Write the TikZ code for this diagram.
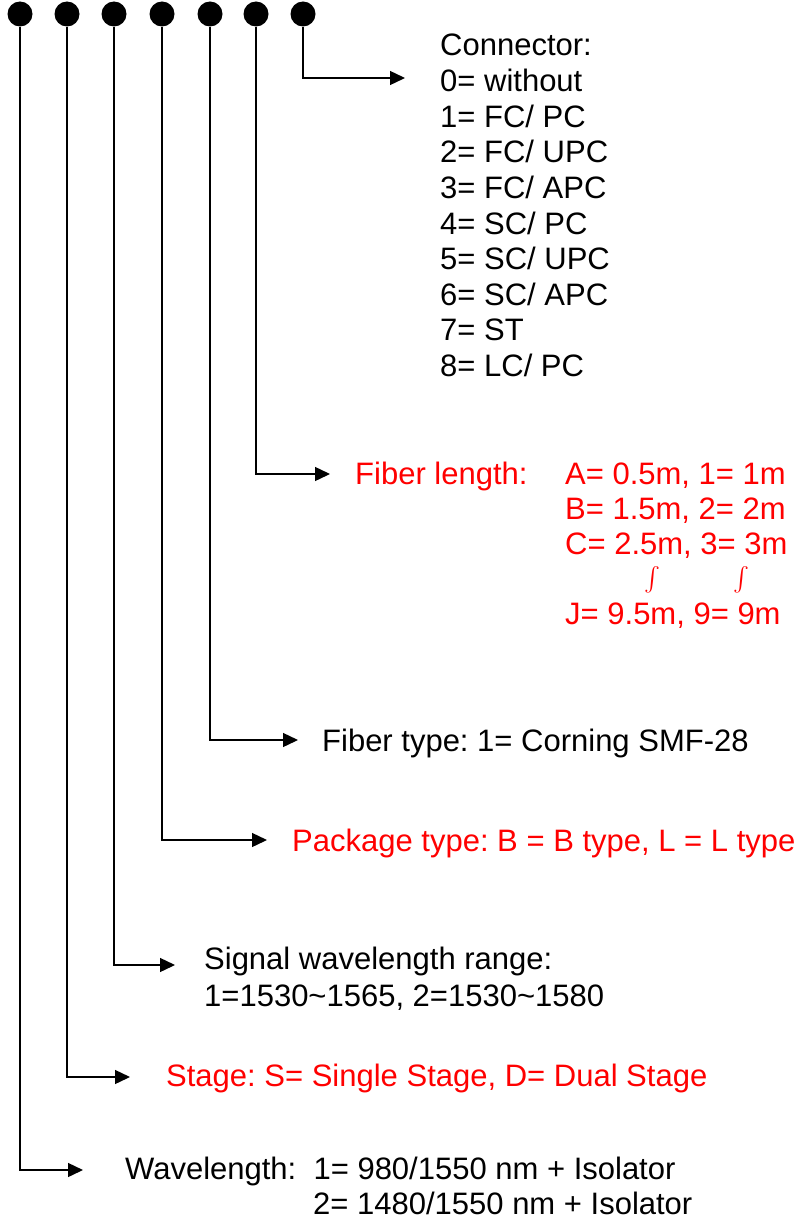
\documentclass[tikz,border=0pt]{standalone}
\usepackage{fontspec}
\setmainfont{Liberation Sans}
\usetikzlibrary{arrows.meta, positioning}
\frenchspacing

\begin{document}
\begin{tikzpicture}[
  x=1pt, y=-1pt,
  pin/.style={circle, fill, inner sep=0pt, minimum size=25pt},
  lead/.style={draw, line width=1.4pt, -{Triangle[length=15pt, width=14pt]}},
  txt/.style={anchor=base west, inner sep=0pt, font=\fontsize{31}{36}\selectfont},
  redtxt/.style={txt, text=red},
  gap/.style={red, inner sep=0pt, scale=2.4}
  ]
  \useasboundingbox (0,0) rectangle (799,1220);
  % code pins
  \node[pin] (d1) at (20,14) {};
  \node[pin] (d2) at (67,14) {};
  \node[pin] (d3) at (114,14) {};
  \node[pin] (d4) at (162,14) {};
  \node[pin] (d5) at (210,14) {};
  \node[pin] (d6) at (256,14) {};
  \node[pin] (d7) at (303,14) {};
  % arrow ends
  \coordinate (a1) at (83,1170);
  \coordinate (a2) at (130,1077);
  \coordinate (a3) at (175,965);
  \coordinate (a4) at (267,840);
  \coordinate (a5) at (298,740);
  \coordinate (a6) at (330,474);
  \coordinate (a7) at (405,78);
  \draw[lead] (d1) |- (a1);
  \draw[lead] (d2) |- (a2);
  \draw[lead] (d3) |- (a3);
  \draw[lead] (d4) |- (a4);
  \draw[lead] (d5) |- (a5);
  \draw[lead] (d6) |- (a6);
  \draw[lead] (d7) |- (a7);
  % connector
  \foreach \txt [count=\i from 0] in {Connector:, 0= without, 1= FC/ PC, 2= FC/ UPC,
      3= FC/ APC, 4= SC/ PC, 5= SC/ UPC, 6= SC/ APC, 7= ST, 8= LC/ PC}
    \node[txt] (con\i) at (440,{56+35.6*\i}) {\txt};
  % fiber length
  \node[redtxt] (len) at (355,484) {Fiber length:};
  \node[redtxt] (lenA) at (565,484) {A= 0.5m, 1= 1m};
  \node[redtxt] (lenB) at (565,519) {B= 1.5m, 2= 2m};
  \node[redtxt] (lenC) at (565,554) {C= 2.5m, 3= 3m};
  \node[gap] (gapL) at (652,580) {$\int$};
  \node[gap] (gapR) at (741,580) {$\int$};
  \node[redtxt] (lenJ) at (565,624) {J= 9.5m, 9= 9m};
  % fiber, package, signal, stage, wavelength
  \node[txt] (fib) at (322,751) {Fiber type: 1= Corning SMF-28};
  \node[redtxt] (pkg) at (292,851) {Package type: B = B type, L = L type};
  \node[txt] (sig) at (204,969) {Signal wavelength range:};
  \node[txt] (sig2) at (204,1006) {1=1530\textasciitilde1565, 2=1530\textasciitilde1580};
  \node[redtxt] (stg) at (166,1086) {Stage: S= Single Stage, D= Dual Stage};
  \node[txt] (wl) at (125,1179) {Wavelength:\ \ 1= 980/1550 nm + Isolator};
  \node[txt] (wl2) at (313,1214) {2= 1480/1550 nm + Isolator};
\end{tikzpicture}
\end{document}
